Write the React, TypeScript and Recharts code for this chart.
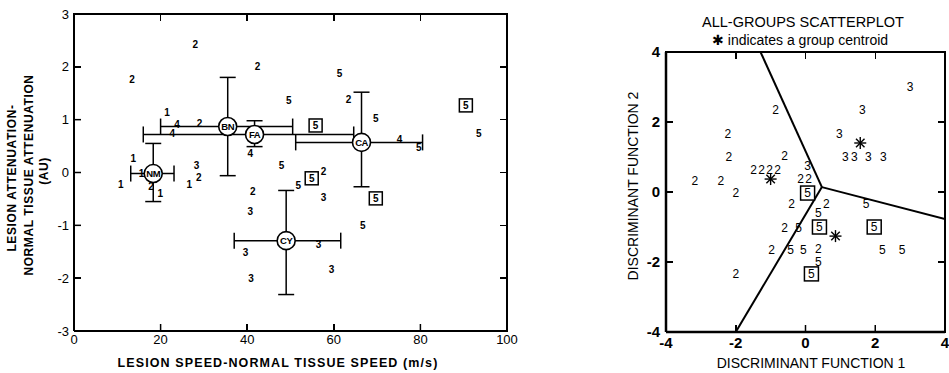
import React from 'react';
import { ScatterChart, Scatter, XAxis, YAxis, ErrorBar } from 'recharts';

const FONT = '"Liberation Sans", Arial, Helvetica, sans-serif';

// ---------- Left chart data ----------
const leftXTicks = [0, 20, 40, 60, 80, 100];
const leftYTicks = [-3, -2, -1, 0, 1, 2, 3];

const leftGroup1 = [
  { x: 21.5, y: 1.14 },
  { x: 13.7, y: 0.27 },
  { x: 15.6, y: -0.02 },
  { x: 10.8, y: -0.23 },
  { x: 26.6, y: -0.23 },
  { x: 19.9, y: -0.4 },
];
const leftGroup2 = [
  { x: 28, y: 2.42 },
  { x: 13.4, y: 1.76 },
  { x: 29, y: 0.93 },
  { x: 42.4, y: 2.0 },
  { x: 63.4, y: 1.38 },
  { x: 57.6, y: 0.02 },
  { x: 41.3, y: -0.36 },
  { x: 28.8, y: -0.1 },
  { x: 17.8, y: -0.26 },
];
const leftGroup3 = [
  { x: 28.3, y: 0.13 },
  { x: 40.7, y: -0.74 },
  { x: 39.6, y: -1.52 },
  { x: 40.9, y: -2.0 },
  { x: 57.6, y: -0.47 },
  { x: 56.5, y: -1.37 },
  { x: 59.5, y: -1.84 },
];
const leftGroup4 = [
  { x: 23.8, y: 0.9 },
  { x: 22.7, y: 0.74 },
  { x: 40.7, y: 0.36 },
  { x: 75.2, y: 0.63 },
];
const leftGroup5 = [
  { x: 61.3, y: 1.87 },
  { x: 49.6, y: 1.36 },
  { x: 69.7, y: 1.02 },
  { x: 93.5, y: 0.74 },
  { x: 79.6, y: 0.47 },
  { x: 47.9, y: 0.13 },
  { x: 51.8, y: -0.25 },
  { x: 66.7, y: -1.0 },
];
const leftGroup5Boxed = [
  { x: 55.8, y: 0.89 },
  { x: 90.5, y: 1.27 },
  { x: 54.9, y: -0.11 },
  { x: 69.7, y: -0.49 },
];
const leftCentroids = [
  { x: 18.3, y: -0.02, name: 'NM', xErr: [5.2, 4.8], yErr: [0.53, 0.57] },
  { x: 35.5, y: 0.87, name: 'BN', xErr: [15.5, 15], yErr: [0.93, 0.93] },
  { x: 41.7, y: 0.72, name: 'FA', xErr: [25.7, 22.9], yErr: [0.23, 0.26] },
  { x: 66.4, y: 0.57, name: 'CA', xErr: [15.2, 14.1], yErr: [0.84, 0.95] },
  { x: 49, y: -1.29, name: 'CY', xErr: [12, 12.6], yErr: [1.02, 0.95] },
];

// ---------- Right chart data ----------
const rightTicks = [-4, -2, 0, 2, 4];
const rightGroup2 = [
  { x: -0.86, y: 2.34 },
  { x: -2.23, y: 1.66 },
  { x: -2.2, y: 1.0 },
  { x: -1.49, y: 0.63 },
  { x: -1.26, y: 0.63 },
  { x: -1.03, y: 0.63 },
  { x: -0.8, y: 0.63 },
  { x: -3.17, y: 0.31 },
  { x: -2.43, y: 0.31 },
  { x: -2.0, y: -0.03 },
  { x: -0.6, y: 1.03 },
  { x: -0.14, y: 0.38 },
  { x: 0.09, y: 0.38 },
  { x: -0.4, y: -0.34 },
  { x: 0.6, y: -0.34 },
  { x: -0.6, y: -1.03 },
  { x: -0.97, y: -1.66 },
  { x: 0.37, y: -1.63 },
  { x: -2.0, y: -2.34 },
];
const rightGroup3 = [
  { x: 3.0, y: 3.0 },
  { x: 1.63, y: 2.34 },
  { x: 0.97, y: 1.66 },
  { x: 1.14, y: 1.0 },
  { x: 1.4, y: 1.0 },
  { x: 1.8, y: 1.0 },
  { x: 2.23, y: 1.0 },
  { x: 0.06, y: 0.73 },
];
const rightGroup5 = [
  { x: 1.74, y: -0.34 },
  { x: 0.37, y: -0.6 },
  { x: -0.2, y: -1.03 },
  { x: -0.43, y: -1.66 },
  { x: -0.06, y: -1.66 },
  { x: 0.37, y: -2.0 },
  { x: 2.2, y: -1.66 },
  { x: 2.77, y: -1.66 },
];
const rightGroup5Boxed = [
  { x: 0.06, y: -0.03 },
  { x: 0.4, y: -1.0 },
  { x: 1.97, y: -1.0 },
  { x: 0.17, y: -2.34 },
];
const rightCentroids = [
  { x: -1.0, y: 0.37 },
  { x: 1.57, y: 1.4 },
  { x: 0.86, y: -1.26 },
];
const boundaryTop = [
  { x: -1.29, y: 4 },
  { x: 0.47, y: 0.14 },
];
const boundaryLeft = [
  { x: 0.47, y: 0.14 },
  { x: -2, y: -4 },
];
const boundaryRight = [
  { x: 0.47, y: 0.14 },
  { x: 4, y: -0.77 },
];

// ---------- Shapes ----------
function makeDigit(label: string, fontSize: number, boxed: boolean, boxSize: number, weight: string) {
  return (props: any) => {
    const { cx, cy } = props;
    if (cx == null || cy == null) return <g />;
    return (
      <g>
        {boxed && (
          <rect x={cx - boxSize / 2} y={cy - boxSize / 2} width={boxSize} height={boxSize}
            fill="#fff" stroke="#000" strokeWidth={1.5} />
        )}
        <text x={cx} y={cy} textAnchor="middle" dominantBaseline="central"
          fontSize={fontSize} fontFamily={FONT} fontWeight={weight} fill="#000">{label}</text>
      </g>
    );
  };
}

const CentroidCircle = (props: any) => {
  const { cx, cy, payload } = props;
  if (cx == null || cy == null) return <g />;
  return (
    <g>
      <circle cx={cx} cy={cy} r={9} fill="#fff" stroke="#000" strokeWidth={1.6} />
      <text x={cx} y={cy} textAnchor="middle" dominantBaseline="central" fontSize={9.5}
        fontFamily={FONT} fontWeight="bold" fill="#000" letterSpacing={-0.5}>{payload.name}</text>
    </g>
  );
};

const Asterisk = (props: any) => {
  const { cx, cy } = props;
  if (cx == null || cy == null) return <g />;
  const r = 6;
  const d = r * 0.707;
  return (
    <g stroke="#000" strokeWidth={1.4}>
      <line x1={cx - r} y1={cy} x2={cx + r} y2={cy} />
      <line x1={cx} y1={cy - r} x2={cx} y2={cy + r} />
      <line x1={cx - d} y1={cy - d} x2={cx + d} y2={cy + d} />
      <line x1={cx - d} y1={cy + d} x2={cx + d} y2={cy - d} />
    </g>
  );
};

const NoShape = () => <g />;

const L1 = makeDigit('1', 10, false, 0, 'bold');
const L2 = makeDigit('2', 10, false, 0, 'bold');
const L3 = makeDigit('3', 10, false, 0, 'bold');
const L4 = makeDigit('4', 10, false, 0, 'bold');
const L5 = makeDigit('5', 10, false, 0, 'bold');
const L5B = makeDigit('5', 10, true, 13, 'bold');
const R2 = makeDigit('2', 12, false, 0, 'normal');
const R3 = makeDigit('3', 12, false, 0, 'normal');
const R5 = makeDigit('5', 12, false, 0, 'normal');
const R5B = makeDigit('5', 12, true, 14, 'normal');

const axisStroke = { stroke: '#000', strokeWidth: 2 };
const tickStroke = { stroke: '#000', strokeWidth: 1.5 };
const rAxisStroke = { stroke: '#000', strokeWidth: 2.5 };

const abs = (l: number, t: number, extra: any = {}) => ({ position: 'absolute' as const, left: l, top: t, ...extra });

// decorative plot frame (box edges + inward tick marks) laid over a plot rectangle
function Frame({ left, top, right, bottom, xTicks, yTicks, border }: any) {
  const w = right - left;
  const h = bottom - top;
  const x0 = xTicks[0], x1 = xTicks[xTicks.length - 1];
  const y0 = yTicks[0], y1 = yTicks[yTicks.length - 1];
  const px = (t: number) => left + ((t - x0) / (x1 - x0)) * w;
  const py = (t: number) => bottom - ((t - y0) / (y1 - y0)) * h;
  const inner = (a: number[]) => a.slice(1, -1);
  const mark = (l: number, t: number, ww: number, hh: number, k: string) => (
    <div key={k} style={abs(l, t, { width: ww, height: hh, background: '#000' })} />
  );
  return (
    <>
      <div style={abs(left - 1, top - 1, { width: w + 2, height: h + 2, boxSizing: 'border-box', borderTop: `${border}px solid #000`, borderRight: `${border}px solid #000` })} />
      {inner(xTicks).map((t: number) => mark(px(t) - 0.75, top, 1.5, 7, 'tt' + t))}
      {inner(xTicks).map((t: number) => mark(px(t) - 0.75, bottom - 7, 1.5, 7, 'bt' + t))}
      {inner(yTicks).map((t: number) => mark(right - 7, py(t) - 0.75, 7, 1.5, 'rt' + t))}
      {inner(yTicks).map((t: number) => mark(left, py(t) - 0.75, 7, 1.5, 'lt' + t))}
    </>
  );
}

export default function App() {
  return (
    <div style={{ position: 'absolute', left: 0, top: 0, width: 949, height: 373, background: '#fff', overflow: 'hidden', fontFamily: FONT, color: '#000' }}>
      {/* Left chart */}
      <div style={abs(0, 0)}>
        <ScatterChart width={520} height={373} margin={{ top: 14, right: 13, bottom: 12, left: 44 }}>
          <XAxis type="number" dataKey="x" domain={[0, 100]} ticks={leftXTicks} allowDataOverflow interval={0}
            height={30} tickSize={-7} tickMargin={11} axisLine={axisStroke} tickLine={tickStroke}
            tick={{ fill: '#000', fontSize: 13, fontFamily: FONT }} />
          <YAxis type="number" dataKey="y" domain={[-3, 3]} ticks={leftYTicks} allowDataOverflow interval={0}
            width={30} tickSize={-7} tickMargin={12} axisLine={axisStroke} tickLine={tickStroke}
            tick={{ fill: '#000', fontSize: 13, fontFamily: FONT }} />
          <Scatter data={leftGroup1} shape={L1} isAnimationActive={false} />
          <Scatter data={leftGroup2} shape={L2} isAnimationActive={false} />
          <Scatter data={leftGroup3} shape={L3} isAnimationActive={false} />
          <Scatter data={leftGroup4} shape={L4} isAnimationActive={false} />
          <Scatter data={leftGroup5} shape={L5} isAnimationActive={false} />
          <Scatter data={leftGroup5Boxed} shape={L5B} isAnimationActive={false} />
          <Scatter data={leftCentroids} shape={CentroidCircle} isAnimationActive={false}>
            <ErrorBar dataKey="xErr" direction="x" width={8} stroke="#000" strokeWidth={1.5} isAnimationActive={false} />
            <ErrorBar dataKey="yErr" direction="y" width={8} stroke="#000" strokeWidth={1.5} isAnimationActive={false} />
          </Scatter>
        </ScatterChart>
      </div>
      <Frame left={74} top={14} right={507} bottom={331} xTicks={leftXTicks} yTicks={leftYTicks} border={2} />
      {/* Left axis titles */}
      <div style={abs(278, 363, { transform: 'translate(-50%,-50%)', whiteSpace: 'nowrap', fontSize: 12.5, fontWeight: 'bold', letterSpacing: 1.1 })}>
        LESION SPEED-NORMAL TISSUE SPEED (m/s)
      </div>
      <div style={abs(12, 178, { transform: 'translate(-50%,-50%) rotate(-90deg)', whiteSpace: 'nowrap', fontSize: 12, fontWeight: 'bold', letterSpacing: 0.6 })}>
        LESION ATTENUATION-
      </div>
      <div style={abs(29, 175, { transform: 'translate(-50%,-50%) rotate(-90deg)', whiteSpace: 'nowrap', fontSize: 12, fontWeight: 'bold', letterSpacing: 0.6 })}>
        NORMAL TISSUE ATTENUATION
      </div>
      <div style={abs(44, 171, { transform: 'translate(-50%,-50%) rotate(-90deg)', whiteSpace: 'nowrap', fontSize: 12, fontWeight: 'bold', letterSpacing: 0.6 })}>
        (AU)
      </div>

      {/* Right chart */}
      <div style={abs(560, 0)}>
        <ScatterChart width={389} height={373} margin={{ top: 52, right: 4, bottom: 11, left: 76 }}>
          <XAxis type="number" dataKey="x" domain={[-4, 4]} ticks={rightTicks} allowDataOverflow interval={0}
            height={30} tickSize={-7} tickMargin={12} axisLine={rAxisStroke} tickLine={tickStroke}
            tick={{ fill: '#000', fontSize: 15, fontFamily: FONT, fontWeight: 'bold' }} />
          <YAxis type="number" dataKey="y" domain={[-4, 4]} ticks={rightTicks} allowDataOverflow interval={0}
            width={30} tickSize={-7} tickMargin={13} axisLine={rAxisStroke} tickLine={tickStroke}
            tick={{ fill: '#000', fontSize: 15, fontFamily: FONT, fontWeight: 'bold' }} />
          <Scatter data={boundaryTop} line={{ stroke: '#000', strokeWidth: 2 }} shape={NoShape} isAnimationActive={false} />
          <Scatter data={boundaryLeft} line={{ stroke: '#000', strokeWidth: 2 }} shape={NoShape} isAnimationActive={false} />
          <Scatter data={boundaryRight} line={{ stroke: '#000', strokeWidth: 2 }} shape={NoShape} isAnimationActive={false} />
          <Scatter data={rightGroup2} shape={R2} isAnimationActive={false} />
          <Scatter data={rightGroup3} shape={R3} isAnimationActive={false} />
          <Scatter data={rightGroup5} shape={R5} isAnimationActive={false} />
          <Scatter data={rightGroup5Boxed} shape={R5B} isAnimationActive={false} />
          <Scatter data={rightCentroids} shape={Asterisk} isAnimationActive={false} />
        </ScatterChart>
      </div>
      <Frame left={666} top={52} right={945} bottom={332} xTicks={rightTicks} yTicks={rightTicks} border={2} />
      {/* Right titles */}
      <div style={abs(803, 22, { transform: 'translate(-50%,-50%)', whiteSpace: 'nowrap', fontSize: 14.5 })}>
        ALL-GROUPS SCATTERPLOT
      </div>
      <div style={abs(800, 40, { transform: 'translate(-50%,-50%)', whiteSpace: 'nowrap', fontSize: 14 })}>
        ✱ indicates a group centroid
      </div>
      <div style={abs(811, 363, { transform: 'translate(-50%,-50%)', whiteSpace: 'nowrap', fontSize: 14 })}>
        DISCRIMINANT FUNCTION 1
      </div>
      <div style={abs(633, 186, { transform: 'translate(-50%,-50%) rotate(-90deg)', whiteSpace: 'nowrap', fontSize: 14 })}>
        DISCRIMINANT FUNCTION 2
      </div>
    </div>
  );
}
